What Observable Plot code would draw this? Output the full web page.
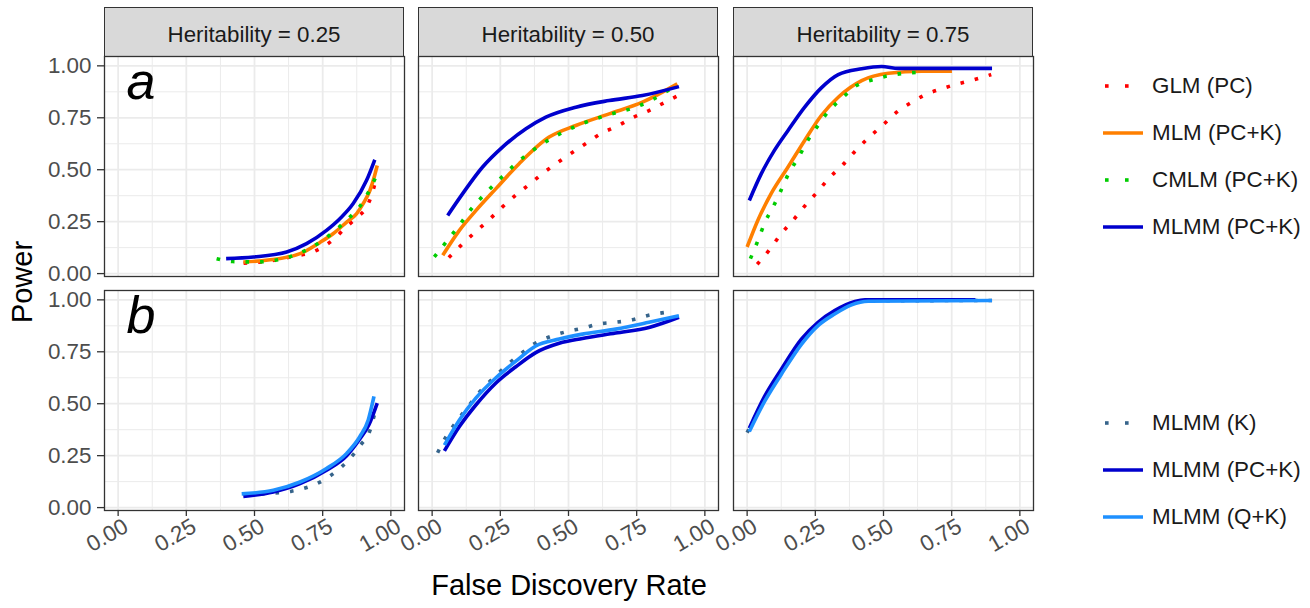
<!DOCTYPE html>
<html><head><meta charset="utf-8">
<script src="https://cdn.jsdelivr.net/npm/d3@7"></script>
<script src="https://cdn.jsdelivr.net/npm/@observablehq/plot@0.6"></script>
<style>
body{margin:0;background:#fff;font-family:"Liberation Sans",Arial,sans-serif;}
#root{position:relative;width:1310px;height:608px;overflow:hidden;background:#fff}
.strip{position:absolute;background:#d9d9d9;border:1.3px solid #333;box-sizing:border-box;font-size:22.3px;color:#1a1a1a;text-align:center;line-height:49px;padding-top:2px}
.lg{position:absolute;font-size:22.4px;color:#1a1a1a;white-space:nowrap;display:flex;align-items:center}
.lg svg{margin-right:9px}
.ttl{position:absolute;font-size:29px;color:#000;white-space:nowrap}
</style></head><body><div id="root"></div>
<script>
// ---- categories / labels ----
const heritabilities = ["0.25", "0.50", "0.75"];
const xTicks = [0, 0.25, 0.5, 0.75, 1];
const yTicks = [0, 0.25, 0.5, 0.75, 1];
const minorTicks = [0.125, 0.375, 0.625, 0.875];
const rowLabels = ["a", "b"];
const methodsA = ["GLM (PC)", "MLM (PC+K)", "CMLM (PC+K)", "MLMM (PC+K)"];
const methodsB = ["MLMM (K)", "MLMM (PC+K)", "MLMM (Q+K)"];
const colorsA = ["#ff0000", "#ff7f00", "#00cd00", "#0000cd"];
const colorsB = ["#36648b", "#0000cd", "#1e90ff"];
const dottedA = [true, false, true, false];
const dottedB = [true, false, false];

// ---- series values: [False Discovery Rate, Power] ----
// row a, heritability 0.25
const glm_h25 = [[0.46,0.05],[0.55,0.06],[0.63,0.08],[0.728,0.112],[0.79,0.165],[0.836,0.224],[0.88,0.275],[0.911,0.32],[0.93,0.38],[0.945,0.45]];
const mlm_h25 = [[0.459,0.056],[0.55,0.065],[0.667,0.096],[0.74,0.15],[0.788,0.192],[0.84,0.25],[0.874,0.288],[0.9,0.34],[0.923,0.4],[0.94,0.47],[0.95,0.52]];
const cmlm_h25 = [[0.361,0.072],[0.42,0.058],[0.51,0.056],[0.6,0.07],[0.7,0.12],[0.78,0.19],[0.84,0.26],[0.89,0.33],[0.925,0.41],[0.95,0.48]];
const mlmmA_h25 = [[0.396,0.072],[0.496,0.08],[0.618,0.104],[0.691,0.144],[0.764,0.208],[0.813,0.264],[0.862,0.337],[0.911,0.449],[0.941,0.548]];
// row a, heritability 0.50
const glm_h50 = [[0.061,0.077],[0.106,0.136],[0.158,0.2],[0.206,0.256],[0.256,0.319],[0.307,0.378],[0.358,0.431],[0.405,0.482],[0.46,0.534],[0.514,0.583],[0.566,0.628],[0.622,0.676],[0.679,0.71],[0.734,0.75],[0.795,0.785],[0.85,0.822],[0.902,0.857]];
const mlm_h50 = [[0.039,0.088],[0.1,0.208],[0.161,0.304],[0.234,0.409],[0.319,0.529],[0.429,0.657],[0.527,0.713],[0.649,0.769],[0.771,0.825],[0.899,0.913]];
const cmlm_h50 = [[0.008,0.08],[0.061,0.168],[0.102,0.237],[0.149,0.32],[0.197,0.388],[0.252,0.46],[0.307,0.529],[0.405,0.625],[0.527,0.709],[0.637,0.761],[0.752,0.804],[0.813,0.841],[0.893,0.905]];
const mlmmA_h50 = [[0.057,0.28],[0.112,0.385],[0.185,0.513],[0.258,0.609],[0.344,0.697],[0.417,0.753],[0.527,0.801],[0.649,0.833],[0.771,0.857],[0.905,0.9]];
// row a, heritability 0.75
const glm_h75 = [[0.037,0.045],[0.082,0.115],[0.123,0.189],[0.168,0.256],[0.211,0.325],[0.257,0.392],[0.301,0.46],[0.349,0.521],[0.395,0.588],[0.453,0.663],[0.503,0.721],[0.548,0.777],[0.604,0.825],[0.655,0.862],[0.711,0.889],[0.772,0.913],[0.834,0.934],[0.895,0.958]];
const mlm_h75 = [[0.0,0.128],[0.039,0.256],[0.088,0.385],[0.15,0.513],[0.211,0.641],[0.272,0.761],[0.334,0.849],[0.42,0.929],[0.518,0.964],[0.64,0.974],[0.751,0.974]];
const cmlm_h75 = [[0.012,0.072],[0.039,0.157],[0.064,0.243],[0.095,0.32],[0.123,0.397],[0.152,0.481],[0.189,0.561],[0.221,0.638],[0.26,0.713],[0.299,0.782],[0.349,0.845],[0.401,0.905],[0.463,0.934],[0.55,0.96],[0.65,0.97]];
const mlmmA_h75 = [[0.008,0.352],[0.052,0.481],[0.1,0.593],[0.15,0.689],[0.211,0.801],[0.272,0.894],[0.334,0.958],[0.42,0.986],[0.493,0.997],[0.555,0.988],[0.898,0.988]];
// row b, heritability 0.25
const k_h25 = [[0.47,0.06],[0.569,0.07],[0.636,0.079],[0.697,0.099],[0.752,0.131],[0.801,0.176],[0.844,0.228],[0.889,0.301],[0.923,0.37],[0.94,0.45]];
const pck_h25 = [[0.459,0.053],[0.569,0.075],[0.667,0.115],[0.764,0.18],[0.838,0.25],[0.886,0.33],[0.92,0.4],[0.95,0.503]];
const qk_h25 = [[0.453,0.066],[0.569,0.083],[0.667,0.123],[0.764,0.188],[0.838,0.261],[0.886,0.341],[0.917,0.422],[0.938,0.535]];
// row b, heritability 0.50
const k_h50 = [[0.02,0.264],[0.051,0.341],[0.094,0.422],[0.134,0.49],[0.173,0.555],[0.222,0.621],[0.273,0.684],[0.323,0.738],[0.378,0.791],[0.435,0.824],[0.49,0.846],[0.551,0.863],[0.612,0.884],[0.673,0.892],[0.734,0.904],[0.798,0.927],[0.858,0.94]];
const pck_h50 = [[0.045,0.273],[0.1,0.39],[0.161,0.495],[0.234,0.6],[0.307,0.678],[0.38,0.746],[0.466,0.791],[0.551,0.814],[0.673,0.84],[0.795,0.867],[0.905,0.916]];
const qk_h50 = [[0.045,0.301],[0.1,0.422],[0.161,0.528],[0.234,0.625],[0.307,0.705],[0.38,0.778],[0.466,0.811],[0.551,0.835],[0.673,0.859],[0.795,0.892],[0.905,0.924]];
// row b, heritability 0.75
const k_h75 = [[0.0,0.361],[0.064,0.52],[0.125,0.65],[0.199,0.795],[0.26,0.88],[0.321,0.94],[0.383,0.98],[0.444,0.995],[0.898,0.997]];
const pck_h75 = [[0.008,0.382],[0.064,0.535],[0.125,0.665],[0.199,0.811],[0.26,0.892],[0.321,0.948],[0.395,0.992],[0.432,1.0],[0.837,1.0]];
const qk_h75 = [[0.008,0.366],[0.064,0.511],[0.125,0.641],[0.199,0.786],[0.26,0.876],[0.321,0.932],[0.383,0.976],[0.444,0.993],[0.898,0.997]];

const rowA = [[glm_h25, mlm_h25, cmlm_h25, mlmmA_h25], [glm_h50, mlm_h50, cmlm_h50, mlmmA_h50], [glm_h75, mlm_h75, cmlm_h75, mlmmA_h75]];
const rowB = [[k_h25, pck_h25, qk_h25], [k_h50, pck_h50, qk_h50], [k_h75, pck_h75, qk_h75]];

// ---- layout ----
const root = document.getElementById("root");
const colLeft = [104, 418, 733];
const rowTop = [56, 290];
const PW = 300, PH = 220;
const fmt = d3.format(".2f");

function panel(row, col) {
  const seriesSets = row === 0 ? rowA[col] : rowB[col];
  const colors = row === 0 ? colorsA : colorsB;
  const dotted = row === 0 ? dottedA : dottedB;
  const ml = col === 0 ? 104 : 3, mr = 3, mt = 3, mb = row === 1 ? 75 : 3;
  const marks = [
    Plot.gridX(minorTicks, {stroke: "#ebebeb", strokeOpacity: 1, strokeWidth: 1}),
    Plot.gridY(minorTicks, {stroke: "#ebebeb", strokeOpacity: 1, strokeWidth: 1}),
    Plot.gridX(xTicks, {stroke: "#ebebeb", strokeOpacity: 1, strokeWidth: 1.8}),
    Plot.gridY(yTicks, {stroke: "#ebebeb", strokeOpacity: 1, strokeWidth: 1.8})
  ];
  seriesSets.forEach((data, i) => {
    marks.push(Plot.line(data, {
      x: d => d[0], y: d => d[1], stroke: colors[i], strokeWidth: 3.6,
      strokeDasharray: dotted[i] ? "3.6,11" : null, strokeLinecap: "butt",
      curve: "monotone-x"
    }));
  });
  if (col === 0) {
    marks.push(Plot.text([rowLabels[row]], {text: d => d, frameAnchor: "top-left", dx: 22, dy: 6, lineAnchor: "top", textAnchor: "start", fontSize: 52, fontStyle: "italic", fill: "#000"}));
    marks.push(Plot.axisY(yTicks, {tickFormat: fmt, tickSize: 7, tickPadding: 6, fontSize: 22.4, stroke: "#333", fill: "#4d4d4d", strokeWidth: 1.3, label: null}));
  }
  if (row === 1) {
    marks.push(Plot.axisX(xTicks, {tickSize: 6, stroke: "#333", strokeWidth: 1.3, text: null, label: null}));
    marks.push(Plot.axisX(xTicks, {tickFormat: fmt, tickSize: 0, tickPadding: 14, tickRotate: -30, fontSize: 22.4, fill: "#4d4d4d", dx: 8, label: null}));
  }
  marks.push(Plot.frame({stroke: "#333", strokeWidth: 1.3}));
  const svg = Plot.plot({
    width: PW + ml + mr, height: PH + mt + mb,
    marginLeft: ml, marginRight: mr, marginTop: mt, marginBottom: mb,
    x: {domain: [-0.05, 1.05], axis: null},
    y: {domain: [-0.014, 1.045], axis: null},
    style: {fontFamily: "Liberation Sans, Arial, sans-serif", background: "transparent", overflow: "visible"},
    marks
  });
  svg.style.position = "absolute";
  svg.style.left = (colLeft[col] - ml) + "px";
  svg.style.top = (rowTop[row] - mt) + "px";
  root.appendChild(svg);
}

// strips
heritabilities.forEach((h, c) => {
  const s = document.createElement("div");
  s.className = "strip";
  s.style.left = colLeft[c] + "px"; s.style.top = "7px";
  s.style.width = PW + "px"; s.style.height = "50px";
  s.textContent = "Heritability = " + h;
  root.appendChild(s);
});
for (let r = 0; r < 2; r++) for (let c = 0; c < 3; c++) panel(r, c);

// axis titles
const xt = document.createElement("div");
xt.className = "ttl"; xt.textContent = "False Discovery Rate";
xt.style.left = "569px"; xt.style.top = "569px"; xt.style.transform = "translateX(-50%)";
root.appendChild(xt);
const yt = document.createElement("div");
yt.className = "ttl"; yt.textContent = "Power";
yt.style.left = "22px"; yt.style.top = "282px"; yt.style.transform = "translate(-50%,-50%) rotate(-90deg)";
root.appendChild(yt);

// legends
function legend(names, colors, dotted, top0) {
  names.forEach((n, i) => {
    const d = document.createElement("div");
    d.className = "lg";
    d.style.left = "1103px"; d.style.top = (top0 + i * 47 - 14) + "px"; d.style.height = "28px";
    const key = dotted[i]
      ? `<svg width="40" height="10"><rect x="2" y="3.2" width="3.6" height="3.6" fill="${colors[i]}"/><rect x="22" y="3.2" width="3.6" height="3.6" fill="${colors[i]}"/></svg>`
      : `<svg width="40" height="10"><line x1="0" x2="40" y1="5" y2="5" stroke="${colors[i]}" stroke-width="3.6"/></svg>`;
    d.innerHTML = key + `<span>${n}</span>`;
    root.appendChild(d);
  });
}
legend(methodsA, colorsA, dottedA, 86);
legend(methodsB, colorsB, dottedB, 423);
</script></body></html>
